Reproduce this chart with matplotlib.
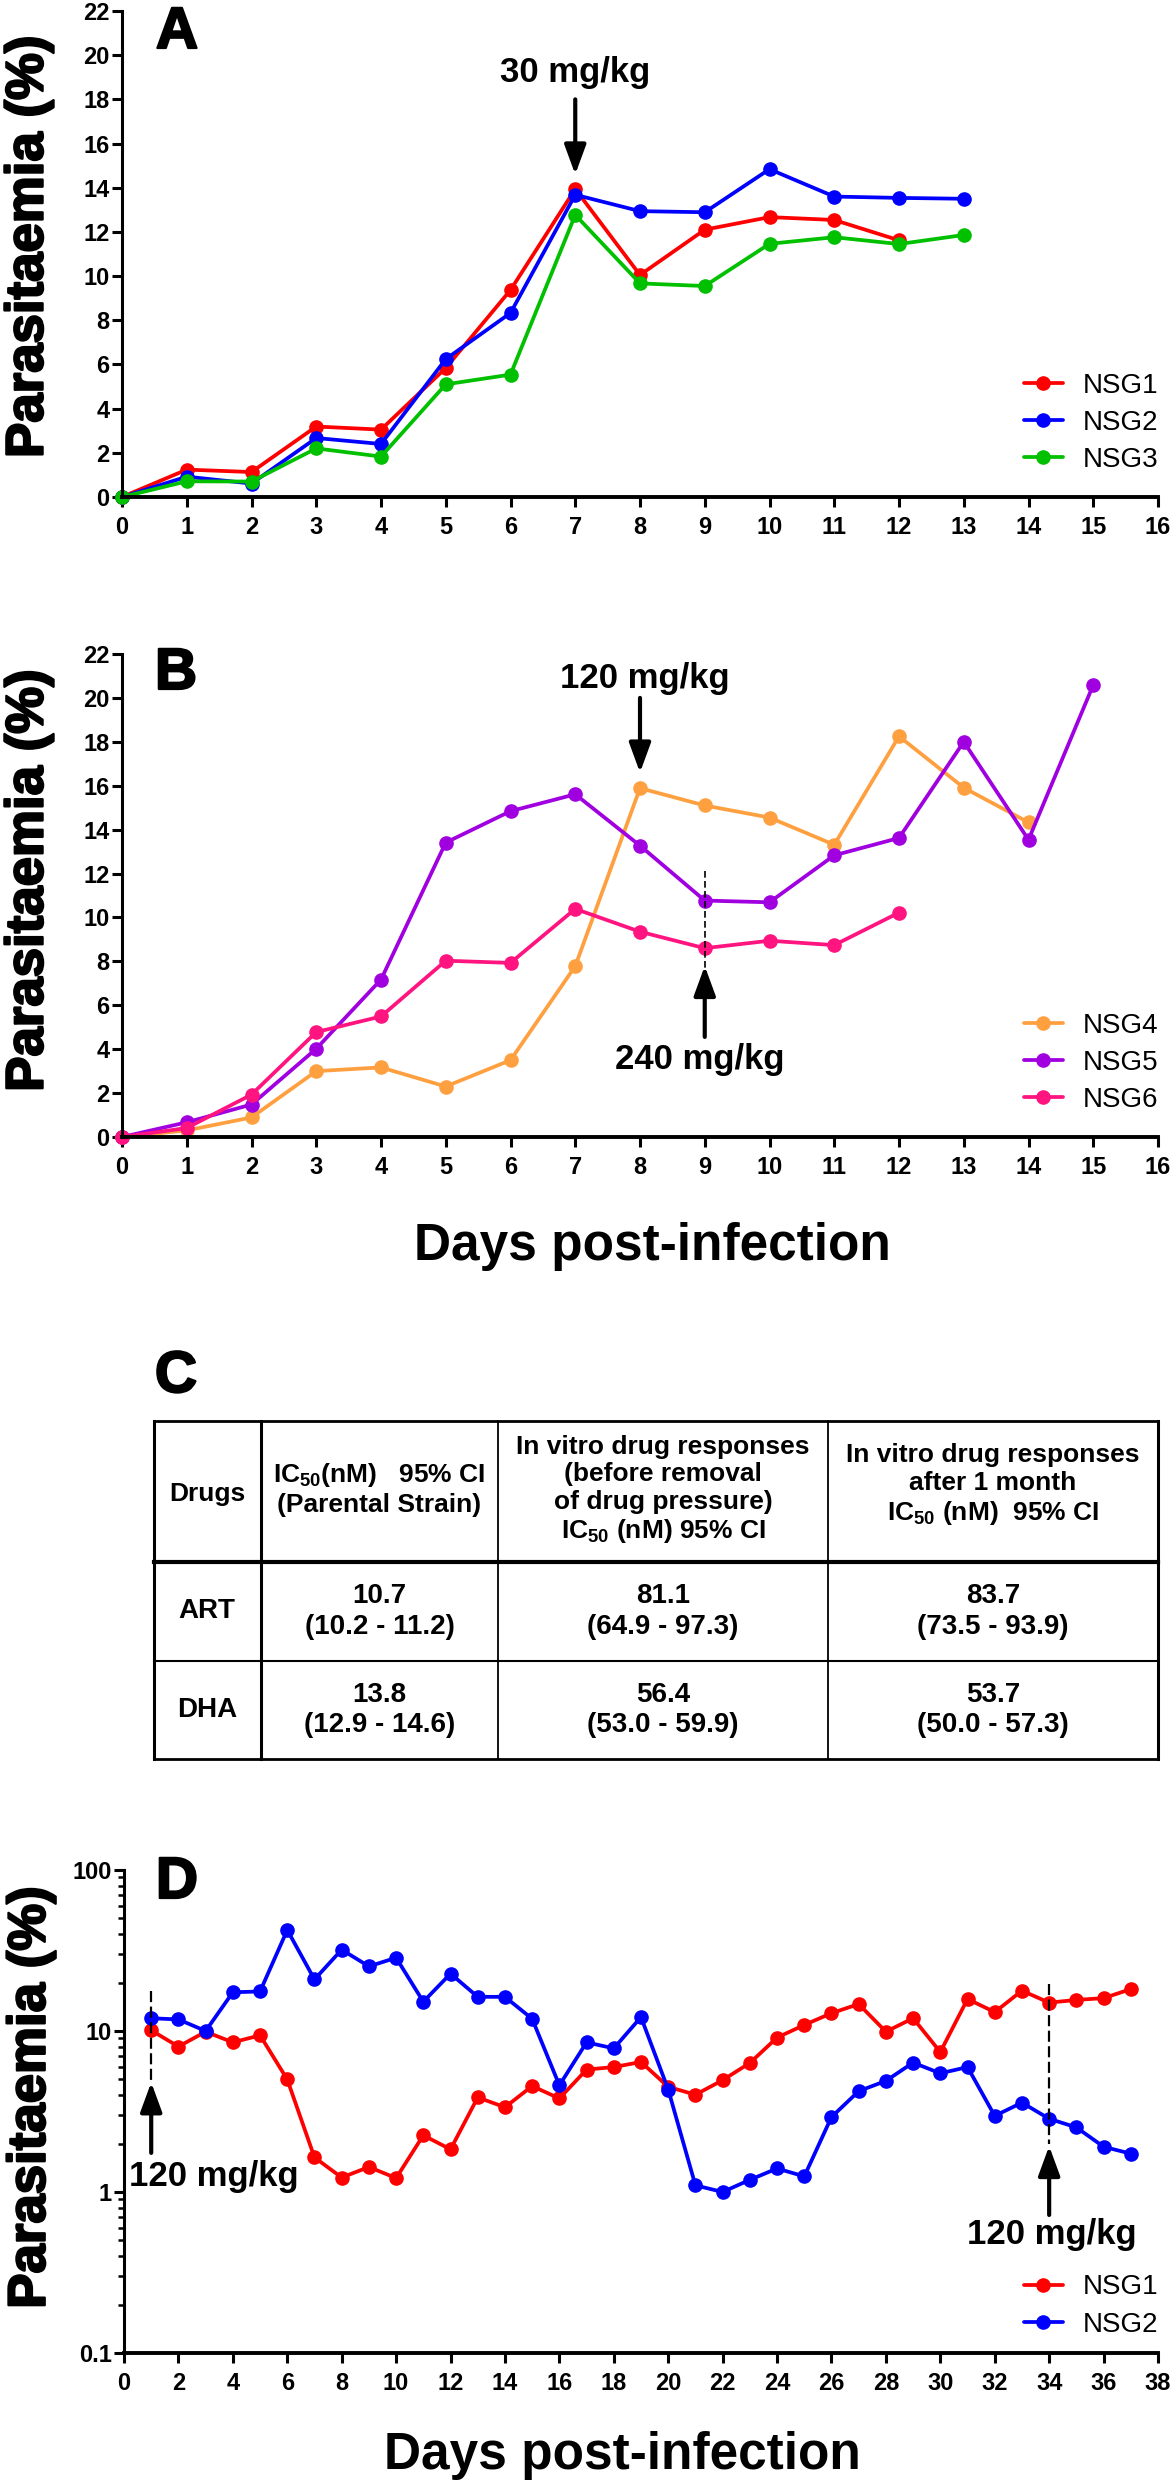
import matplotlib
matplotlib.use("Agg")
import matplotlib.pyplot as plt
import matplotlib.patheffects as pe
from matplotlib import font_manager as fm
from matplotlib.ticker import FixedLocator, LogLocator, NullFormatter

# ---------------- data ----------------
days_A1 = list(range(0, 13))
days_A23 = list(range(0, 14))
nsg1_A = [0, 1.24, 1.13, 3.19, 3.05, 5.84, 9.37, 13.94, 10.05, 12.1, 12.67, 12.54, 11.62]
nsg2_A = [0, 0.92, 0.61, 2.67, 2.40, 6.24, 8.33, 13.68, 12.94, 12.89, 14.84, 13.60, 13.54, 13.50]
nsg3_A = [0, 0.71, 0.70, 2.20, 1.83, 5.10, 5.54, 12.77, 9.67, 9.55, 11.46, 11.76, 11.45, 11.86]

days_B4 = list(range(0, 15))
days_B5 = list(range(0, 16))
days_B6 = list(range(0, 13))
nsg4_B = [0, 0.30, 0.89, 3.00, 3.17, 2.30, 3.50, 7.78, 15.89, 15.10, 14.55, 13.31, 18.25, 15.91, 14.33]
nsg5_B = [0, 0.67, 1.48, 4.02, 7.17, 13.41, 14.84, 15.61, 13.27, 10.77, 10.69, 12.83, 13.62, 18.00, 13.54, 20.59]
nsg6_B = [0, 0.41, 1.93, 4.78, 5.49, 8.03, 7.93, 10.39, 9.35, 8.60, 8.94, 8.74, 10.22]

days_D = list(range(1, 38))
nsg1_D = [10.1, 8.0, 9.9, 8.5, 9.4, 5.0, 1.64, 1.23, 1.43, 1.22, 2.25, 1.84, 3.87, 3.36,
          4.55, 3.81, 5.76, 5.97, 6.42, 4.5, 4.02, 4.95, 6.33, 9.1, 10.9, 12.9, 14.7,
          9.9, 12.0, 7.4, 15.8, 13.1, 17.8, 15.0, 15.6, 16.0, 18.2]
nsg2_D = [12.0, 11.8, 10.0, 17.4, 17.6, 42.4, 20.9, 32.0, 25.2, 28.5, 15.2, 22.7, 16.3,
          16.3, 11.9, 4.6, 8.5, 7.8, 12.2, 4.33, 1.10, 1.00, 1.19, 1.40, 1.25, 2.92, 4.23,
          4.9, 6.36, 5.46, 5.97, 2.97, 3.59, 2.85, 2.52, 1.91, 1.73]

xticks_AB = list(range(0, 17))
yticks_AB = list(range(0, 23, 2))
xticks_D = list(range(0, 39, 2))
yticks_D = [0.1, 1, 10, 100]
yticklabels_D = ["0.1", "1", "10", "100"]

table_cols = ["Drugs",
              "IC$_{50}$(nM)   95% CI\n(Parental Strain)",
              "In vitro drug responses\n(before removal\nof drug pressure)\nIC$_{50}$ (nM) 95% CI",
              "In vitro drug responses\nafter 1 month\nIC$_{50}$ (nM)  95% CI"]
table_drugs = ["ART", "DHA"]
table_vals = [["10.7\n(10.2 - 11.2)", "81.1\n(64.9 - 97.3)", "83.7\n(73.5 - 93.9)"],
              ["13.8\n(12.9 - 14.6)", "56.4\n(53.0 - 59.9)", "53.7\n(50.0 - 57.3)"]]

# ---------------- style ----------------
names = {f.name for f in fm.fontManager.ttflist}
MAIN = "Liberation Sans" if "Liberation Sans" in names else "DejaVu Sans"
plt.rcParams["font.family"] = [MAIN, "DejaVu Sans"]
plt.rcParams["mathtext.default"] = "regular"

W, H = 1175, 2481
fig = plt.figure(figsize=(W / 100, H / 100), dpi=100)

def fx(px):
    return px / W

def fy(py):
    return 1 - py / H

C_RED = "#ff0000"
C_BLUE = "#0000ff"
C_GREEN = "#00c000"
C_ORANGE = "#ffa040"
C_PURPLE = "#a000e0"
C_PINK = "#ff1480"

LW = 2.7
MS = 9.5
TICKFS = 17
HEAVY = [pe.withStroke(linewidth=1.6, foreground="black")]


def style_axis(ax):
    for s in ["top", "right"]:
        ax.spines[s].set_visible(False)
    ax.spines["left"].set_linewidth(2.2)
    ax.spines["bottom"].set_linewidth(2.8)
    ax.tick_params(axis="both", which="major", direction="out", length=7, width=2.2,
                   labelsize=TICKFS, color="black")
    ax.tick_params(axis="x", pad=7)
    ax.tick_params(axis="y", pad=2)
    for lab in ax.get_xticklabels() + ax.get_yticklabels():
        lab.set_fontweight("bold")


def ylab(ax, xr, yc):
    ax.set_ylabel("Parasitaemia (%)", fontsize=38, fontweight="bold", path_effects=HEAVY)
    ax.yaxis.set_label_coords(xr, yc)


def series(ax, x, y, c, label):
    ax.plot(x, y, color=c, lw=LW, marker="o", ms=MS, mec=c, mfc=c, label=label,
            solid_capstyle="round", clip_on=False)


def legend(ax, ymid):
    leg = ax.legend(loc="center left", bbox_to_anchor=(fx(1024), fy(ymid)),
                    bbox_transform=fig.transFigure, frameon=False, fontsize=20,
                    handlelength=1.4, handletextpad=0.72, labelspacing=0.4,
                    borderpad=0, borderaxespad=0)
    return leg


def arrow(ax, x, ytail, ytip):
    ax.annotate("", xy=(x, ytip), xytext=(x, ytail),
                arrowprops=dict(arrowstyle="-|>,head_length=0.9,head_width=0.33",
                                mutation_scale=20, lw=3, color="black",
                                shrinkA=0, shrinkB=0), zorder=10)


# ---------------- Panel A ----------------
axA = fig.add_axes([fx(122), fy(497), fx(1158) - fx(122), fy(11) - fy(497)])
series(axA, days_A1, nsg1_A, C_RED, "NSG1")
series(axA, days_A23, nsg2_A, C_BLUE, "NSG2")
series(axA, days_A23, nsg3_A, C_GREEN, "NSG3")
axA.set_xlim(0, 16)
axA.set_ylim(0, 22)
axA.set_xticks(xticks_AB)
axA.set_yticks(yticks_AB)
style_axis(axA)
ylab(axA, -0.066, 0.514)
legend(axA, 423)
arrow(axA, 7, 18.0, 14.6)
axA.text(7, 19.2, "30 mg/kg", ha="center", va="center", fontsize=25, fontweight="bold")

# ---------------- Panel B ----------------
axB = fig.add_axes([fx(122), fy(1137), fx(1158) - fx(122), fy(654) - fy(1137)])
series(axB, days_B4, nsg4_B, C_ORANGE, "NSG4")
series(axB, days_B5, nsg5_B, C_PURPLE, "NSG5")
series(axB, days_B6, nsg6_B, C_PINK, "NSG6")
axB.set_xlim(0, 16)
axB.set_ylim(0, 22)
axB.set_xticks(xticks_AB)
axB.set_yticks(yticks_AB)
style_axis(axB)
ylab(axB, -0.066, 0.53)
legend(axB, 1063)
axB.plot([9, 9], [12.1, 7.7], ls=(0, (4, 2)), color="black", lw=1.2, zorder=9)
arrow(axB, 8, 20.0, 16.6)
axB.text(8.07, 20.9, "120 mg/kg", ha="center", va="center", fontsize=25, fontweight="bold")
arrow(axB, 9, 4.56, 7.79)
axB.text(8.93, 3.55, "240 mg/kg", ha="center", va="center", fontsize=25, fontweight="bold")
axB.set_xlabel("Days post-infection", fontsize=37, fontweight="bold")
axB.xaxis.set_label_coords(0.5116, -0.176)

# ---------------- Panel C (table) ----------------
axT = fig.add_axes([0, 0, 1, 1])
axT.set_xlim(0, W)
axT.set_ylim(H, 0)
axT.axis("off")
axT.patch.set_alpha(0)
col_edges = [154, 261, 498, 828, 1158]
row_edges = [1421, 1562, 1661, 1759]
for i, xe in enumerate(col_edges):
    lw = 2.2 if i in (0, 1, 4) else 1.3
    axT.plot([xe, xe], [row_edges[0], row_edges[-1]], color="black", lw=lw)
for j, ye in enumerate(row_edges):
    lw = 3.0 if j == 1 else (2.0 if j in (0, 3) else 1.5)
    axT.plot([col_edges[0], col_edges[-1]], [ye, ye], color="black", lw=lw)
hdr_y = [1494, 1489, 1490, 1485]
for i, txt in enumerate(table_cols):
    xc = (col_edges[i] + col_edges[i + 1]) / 2
    axT.text(xc, hdr_y[i], txt, ha="center", va="center", fontsize=19,
             fontweight="bold", linespacing=1.18, multialignment="center")
for r, drug in enumerate(table_drugs):
    yc = (row_edges[r + 1] + row_edges[r + 2]) / 2
    axT.text(207, yc, drug, ha="center", va="center", fontsize=20, fontweight="bold")
    for c, val in enumerate(table_vals[r]):
        xc = (col_edges[c + 1] + col_edges[c + 2]) / 2
        axT.text(xc, yc, val, ha="center", va="center", fontsize=20,
                 fontweight="bold", linespacing=1.25, multialignment="center")

# ---------------- Panel D ----------------
axD = fig.add_axes([fx(124), fy(2353), fx(1158) - fx(124), fy(1870) - fy(2353)])
series(axD, days_D, nsg1_D, C_RED, "NSG1")
series(axD, days_D, nsg2_D, C_BLUE, "NSG2")
axD.set_yscale("log")
axD.set_xlim(0, 38)
axD.set_ylim(0.1, 100)
axD.set_xticks(xticks_D)
axD.yaxis.set_major_locator(FixedLocator(yticks_D))
axD.set_yticklabels(yticklabels_D)
axD.yaxis.set_minor_locator(LogLocator(base=10, subs=range(2, 10)))
axD.yaxis.set_minor_formatter(NullFormatter())
style_axis(axD)
axD.tick_params(axis="y", which="minor", direction="out", length=4, width=1.8)
ylab(axD, -0.066, 0.528)
legend(axD, 2306)
axD.plot([1, 1], [17.7, 4.97], ls=(0, (5, 2)), color="black", lw=1.6, zorder=9)
axD.plot([34, 34], [19.6, 2.0], ls=(0, (5, 2)), color="black", lw=1.6, zorder=9)
arrow(axD, 1, 1.75, 4.8)
arrow(axD, 34, 0.72, 1.93)
axD.text(3.3, 1.24, "120 mg/kg", ha="center", va="center", fontsize=25, fontweight="bold")
axD.text(34.1, 0.548, "120 mg/kg", ha="center", va="center", fontsize=25, fontweight="bold")
axD.set_xlabel("Days post-infection", fontsize=37, fontweight="bold")
axD.xaxis.set_label_coords(0.4816, -0.161)

# ---------------- panel letters ----------------
for letter, px, py in [("A", 177, 33), ("B", 176, 674), ("C", 176, 1377), ("D", 177, 1883)]:
    fig.text(fx(px), fy(py), letter, ha="center", va="center", fontsize=42,
             fontweight="bold", path_effects=HEAVY)

fig.savefig("out.png", dpi=100)
